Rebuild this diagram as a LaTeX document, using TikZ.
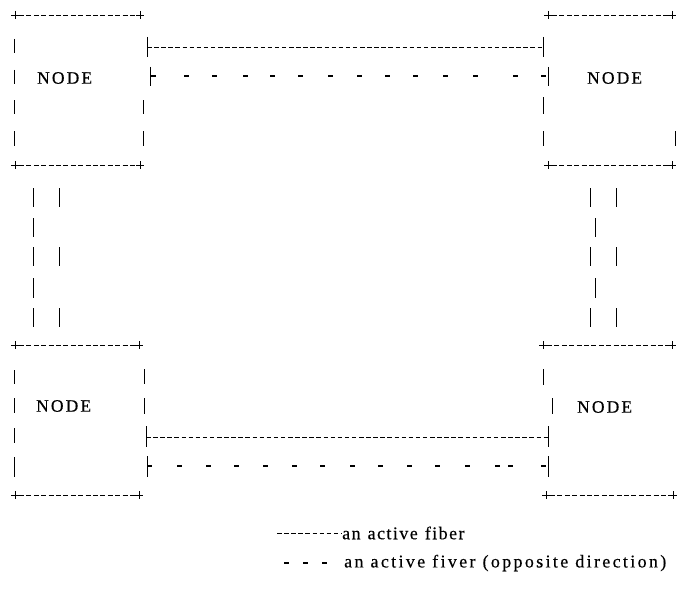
\documentclass[tikz,border=0pt]{standalone}
\usepackage{fontspec}
\setmainfont{Liberation Serif}
\newfontfamily\nodefont[LetterSpace=12,FakeBold=0.3]{Liberation Serif}
\newfontfamily\legfont[LetterSpace=8,FakeBold=0.3]{Liberation Serif}
\newfontfamily\legfontb[LetterSpace=13,FakeBold=0.3]{Liberation Serif}
\newcommand\legsetA{\legfont\fontsize{18}{21}\selectfont\spaceskip 7pt\relax}
\newcommand\legsetB{\legfontb\fontsize{18}{21}\selectfont\spaceskip 7pt\relax}
\tikzset{
  frame/.style={line width=0.8pt, dash pattern=on 5pt off 2.4pt},
  bar/.style={line width=0.9pt},
  fib/.style={line width=0.8pt, dash pattern=on 4.5pt off 2.6pt},
  opp/.style={line width=1.1pt},
  plusmark/.pic={\draw[line width=0.7pt] (-4,0) -- (4,0) (0,-4) -- (0,4);},
  nodelbl/.style={font=\nodefont\fontsize{17.5}{20}\selectfont, inner sep=0pt, anchor=west},
  leglbl/.style={font=\legsetA, inner sep=0pt, anchor=west},
  leglblb/.style={font=\legsetB, inner sep=0pt, anchor=west},
}
\begin{document}
\begin{tikzpicture}[x=1pt,y=-1pt]
\useasboundingbox (0,0) rectangle (677,594);
% ---------- box frames (top/bottom edges) ----------
\foreach \xa/\xb/\yy in {15/140/15, 15/140/165, 548/672/15, 548/672/165,
                         15/139/345, 15/139/495, 543/672/345, 546/673/495}{
  \draw[frame] (\xa+4,\yy) -- (\xb-4,\yy);
  \pic at (\xa,\yy) {plusmark};
  \pic at (\xb,\yy) {plusmark};
}
% ---------- vertical bars of boxes ----------
\foreach \x/\a/\b in {
  14/39/53, 14/70/84, 14/100/114, 14/131/146,
  143/100/114, 143/131/146,
  543/97/114, 543/131/146, 675/131/146,
  14/370/384, 14/398/413, 14/428/443, 14/457/477,
  144/369/384, 144/398/414,
  543/369/385, 552/398/414}{
  \draw[bar] (\x,\a) -- (\x,\b);
}
% ---------- NODE labels ----------
\node[nodelbl] (n1) at (37,78) {NODE};
\node[nodelbl] (n2) at (587,78) {NODE};
\node[nodelbl] (n3) at (36,406) {NODE};
\node[nodelbl] (n4) at (577,407) {NODE};
% ---------- top fibers ----------
\coordinate (t1a) at (147,47); \coordinate (t1b) at (543,47);
\draw[bar] (147,37) -- (147,57);
\draw[bar] (543,37) -- (543,57);
\draw[fib] (t1a) -- (t1b);
\draw[bar] (150,67) -- (150,86);
\draw[bar] (548,67) -- (548,86);
\foreach \x in {151,184,212,243,270,298,328,357,385,413,443,473,513,541}
  \draw[opp] (\x,76) -- ++(5,0);
% ---------- bottom fibers ----------
\coordinate (b1a) at (146,437); \coordinate (b1b) at (548,437);
\draw[bar] (146,426) -- (146,447);
\draw[bar] (548,426) -- (548,447);
\draw[fib] (b1a) -- (b1b);
\draw[bar] (147,456) -- (147,477);
\draw[bar] (548,456) -- (548,477);
\foreach \x in {147,177,206,234,263,292,320,350,378,407,435,465,495,508,541}
  \draw[opp] (\x,466) -- ++(5,0);
% ---------- vertical links ----------
\foreach \x/\a/\b in {
  33/188/207, 33/218/237, 33/247/266, 33/278/298, 33/308/327,
  59/188/207, 59/247/266, 59/308/327,
  590/188/207, 590/247/266, 590/308/327,
  595/218/237, 595/278/298,
  616/188/207, 616/247/266, 616/308/327}{
  \draw[bar] (\x,\a) -- (\x,\b);
}
% ---------- legend ----------
\coordinate (lg1) at (277,533);
\node[leglbl] (l1) at (342,533) {an active fiber};
\draw[fib] (lg1) -- (l1.west);
\foreach \x in {284,303,322}
  \draw[opp] (\x,563) -- ++(5,0);
\node[leglblb] (l2) at (344,563) {an active fiver (opposite direction)};
\end{tikzpicture}
\end{document}
